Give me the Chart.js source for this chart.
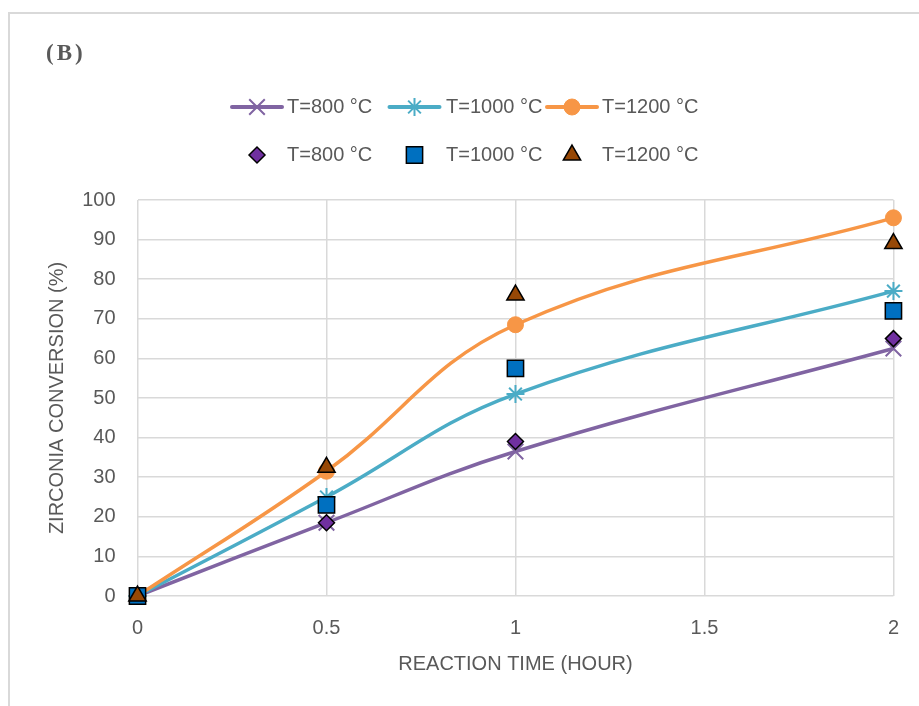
<!DOCTYPE html>
<html>
<head>
<meta charset="utf-8">
<script src="https://cdn.jsdelivr.net/npm/chart.js@4/dist/chart.umd.min.js"></script>
<style>
  html, body { margin: 0; padding: 0; background: #fff; }
  #wrap { position: relative; width: 919px; height: 706px; overflow: hidden; }
  #frame { position: absolute; left: 8px; top: 12px; width: 930px; height: 720px;
           border-left: 2px solid #d9d9d9; border-top: 2px solid #d9d9d9; }
  canvas { position: absolute; left: 0; top: 0; }
</style>
</head>
<body>
<div id="wrap">
  <div id="frame"></div>
  <canvas id="zirconiaChart" width="919" height="706"></canvas>
</div>
<script>
// reaction time (hour)
const times = [0, 0.5, 1, 2];
const seriesLabels = ["T=800 °C", "T=1000 °C", "T=1200 °C"];

// fitted curves (lines)
const fit800 = [0, 18.5, 36.5, 62.5];
const fit1000 = [0, 25, 51, 77];
const fit1200 = [0, 31.5, 68.5, 95.5];

// experimental points (markers)
const exp800 = [0, 18.5, 39, 65];
const exp1000 = [0, 23, 57.5, 72];
const exp1200 = [0, 32.5, 76, 89];

const xTicks = [0, 0.5, 1, 1.5, 2];
const yTicks = [0, 10, 20, 30, 40, 50, 60, 70, 80, 90, 100];

const textColor = "#595959";
const gridColor = "#d9d9d9";
const fontFamily = '"Liberation Sans", Arial, sans-serif';

function points(values) {
    return times.map((t, i) => ({ x: t, y: values[i] }));
}

// legend drawn in two rows: lines on top, markers below
const legendCols = [257, 414.5, 572];
const legendTextX = [287, 446, 602];
const legendRows = [107, 155];

const twoRowLegend = {
    id: "twoRowLegend",
    afterDraw(chart) {
        const ctx = chart.ctx;
        ctx.save();

        ctx.fillStyle = textColor;
        ctx.font = 'bold 23px "Liberation Serif", serif';
        ctx.textBaseline = "middle";
        ctx.textAlign = "left";
        ctx.letterSpacing = "3px";
        ctx.fillText("(B)", 46, 54);
        ctx.letterSpacing = "0px";

        chart.data.datasets.forEach((ds, i) => {
            const col = i % 3;
            const row = Math.floor(i / 3);
            const cx = legendCols[col];
            const y = legendRows[row];

            if (ds.showLine !== false) {
                ctx.strokeStyle = ds.borderColor;
                ctx.lineWidth = 4;
                ctx.lineCap = "round";
                ctx.beginPath();
                ctx.moveTo(cx - 25, y);
                ctx.lineTo(cx + 25, y);
                ctx.stroke();
            }
            ctx.fillStyle = ds.pointBackgroundColor;
            ctx.strokeStyle = ds.pointBorderColor;
            ctx.lineWidth = ds.pointBorderWidth;
            ctx.lineCap = "butt";
            Chart.helpers.drawPoint(ctx, {
                pointStyle: ds.pointStyle,
                radius: ds.pointRadius,
                rotation: 0,
                borderWidth: ds.pointBorderWidth
            }, cx, y);

            ctx.fillStyle = textColor;
            ctx.font = "20px " + fontFamily;
            ctx.textBaseline = "middle";
            ctx.fillText(ds.label, legendTextX[col], y);
        });
        ctx.restore();
    }
};

const ctx = document.getElementById("zirconiaChart").getContext("2d");

new Chart(ctx, {
    type: "line",
    data: {
        datasets: [
            {
                label: seriesLabels[0],
                data: points(fit800),
                borderColor: "#8064A2",
                borderWidth: 3.5,
                tension: 0.4,
                pointStyle: "crossRot",
                pointRadius: 11,
                pointBorderWidth: 2,
                pointBorderColor: "#8064A2",
                pointBackgroundColor: "#8064A2",
                clip: false,
                order: 12
            },
            {
                label: seriesLabels[1],
                data: points(fit1000),
                borderColor: "#4BACC6",
                borderWidth: 3.5,
                tension: 0.4,
                pointStyle: "star",
                pointRadius: 9,
                pointBorderWidth: 2,
                pointBorderColor: "#4BACC6",
                pointBackgroundColor: "#4BACC6",
                clip: false,
                order: 11
            },
            {
                label: seriesLabels[2],
                data: points(fit1200),
                borderColor: "#F79646",
                borderWidth: 3.5,
                tension: 0.4,
                pointStyle: "circle",
                pointRadius: 8,
                pointBorderWidth: 1,
                pointBorderColor: "#F79646",
                pointBackgroundColor: "#F79646",
                clip: false,
                order: 10
            },
            {
                label: seriesLabels[0],
                data: points(exp800),
                showLine: false,
                pointStyle: "rectRot",
                pointRadius: 8,
                pointBorderWidth: 1.5,
                pointBorderColor: "#000000",
                pointBackgroundColor: "#7030A0",
                clip: false,
                order: 3
            },
            {
                label: seriesLabels[1],
                data: points(exp1000),
                showLine: false,
                pointStyle: "rect",
                pointRadius: 11.5,
                pointBorderWidth: 1.5,
                pointBorderColor: "#000000",
                pointBackgroundColor: "#0070C0",
                clip: false,
                order: 2
            },
            {
                label: seriesLabels[2],
                data: points(exp1200),
                showLine: false,
                pointStyle: "triangle",
                pointRadius: 10,
                pointBorderWidth: 1.5,
                pointBorderColor: "#000000",
                pointBackgroundColor: "#974806",
                clip: false,
                order: 1
            }
        ]
    },
    options: {
        responsive: false,
        devicePixelRatio: 1,
        animation: false,
        layout: {
            padding: { top: 200, right: 19, bottom: 0, left: 0 }
        },
        plugins: {
            legend: { display: false },
            title: { display: false },
            tooltip: { enabled: false }
        },
        scales: {
            x: {
                type: "linear",
                min: 0,
                max: 2,
                afterBuildTicks: (axis) => { axis.ticks = xTicks.map(v => ({ value: v })); },
                afterFit: (axis) => { axis.height = 110; },
                ticks: {
                    color: textColor,
                    font: { family: fontFamily, size: 20 },
                    padding: 20,
                    callback: (value) => String(value)
                },
                grid: { color: gridColor, lineWidth: 1.5, drawTicks: false },
                border: { display: false },
                title: {
                    display: true,
                    text: "REACTION TIME (HOUR)",
                    color: textColor,
                    font: { family: fontFamily, size: 20 },
                    padding: { top: 0, bottom: 30 }
                }
            },
            y: {
                min: 0,
                max: 100,
                afterBuildTicks: (axis) => { axis.ticks = yTicks.map(v => ({ value: v })); },
                afterFit: (axis) => { axis.width = 137.5; },
                ticks: { color: textColor, font: { family: fontFamily, size: 20 }, padding: 22 },
                grid: { color: gridColor, lineWidth: 1.5, drawTicks: false },
                border: { display: false },
                title: {
                    display: true,
                    text: "ZIRCONIA CONVERSION (%)",
                    color: textColor,
                    font: { family: fontFamily, size: 20 },
                    padding: { top: 45, bottom: 0 }
                }
            }
        }
    },
    plugins: [twoRowLegend]
});
</script>
</body>
</html>
